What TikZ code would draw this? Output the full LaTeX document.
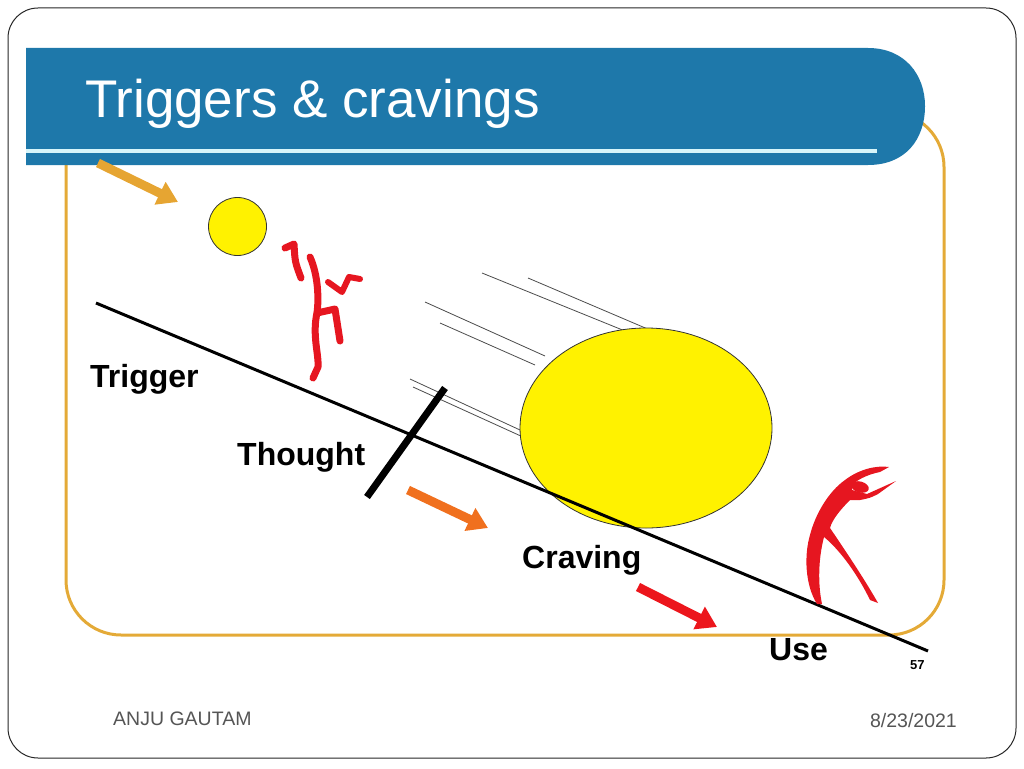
\documentclass[tikz,border=0pt]{standalone}
\usepackage{fontspec}
\setmainfont{Liberation Sans}
\usetikzlibrary{arrows.meta}
\definecolor{barblue}{RGB}{30,120,170}
\definecolor{barline}{RGB}{215,245,250}
\definecolor{frameorange}{RGB}{228,170,55}
\definecolor{arrowone}{RGB}{230,165,50}
\definecolor{arrowtwo}{RGB}{240,112,30}
\definecolor{arrowred}{RGB}{236,22,28}
\definecolor{figred}{RGB}{230,22,32}
\definecolor{footgray}{RGB}{85,85,85}
\begin{document}
\begin{tikzpicture}[x=1pt,y=-1pt,
		lbl/.style={anchor=base west,inner sep=0pt,font=\fontsize{32}{38}\selectfont\bfseries},
		fatarrow/.style={line width=9pt,-{Triangle[width=24pt,length=20pt]}},
		speed/.style={draw=black!70,line width=0.8pt}]
				\useasboundingbox (0,0) rectangle (1024,768);
				\draw[black!85,line width=1pt,rounded corners=30pt] (8,8) rectangle (1016,758);
				\draw[frameorange,line width=3pt,rounded corners=55pt] (66,112) rectangle (944,635);
				% title bar
				\fill[barblue] (26,48) -- (868,48) .. controls (905,48) and (925,75) .. (925,106) .. controls (925,140) and (905,165) .. (868,165) -- (26,165) -- cycle;
				\draw[barline,line width=3.5pt] (26,151) -- (877,151);
				\node[anchor=base west,inner sep=0pt,text=white,font=\fontsize{53}{60}\selectfont] (title) at (85,117) {Triggers \& cravings};
				% balls
				\filldraw[fill=yellow,draw=black!80,line width=0.8pt] (237.5,226.5) circle (29pt);
				\draw[speed] (482,273) -- (625,331);
				\draw[speed] (528,278) -- (650,330);
				\draw[speed] (425,302) -- (545,356);
				\draw[speed] (440,323) -- (535,365);
				\draw[speed] (410,379) -- (520,430);
				\draw[speed] (413,387) -- (523,437);
				\filldraw[fill=yellow,draw=black!80,line width=0.8pt] (646,428) ellipse (126pt and 100pt);
				% slope
				\coordinate (slopetop) at (96,303);
				\coordinate (slopeend) at (928,651);
				\draw[line width=3pt] (slopetop) -- (slopeend);
				\coordinate (barlow) at (367,497);
				\coordinate (barhigh) at (445,388);
				\draw[line width=7pt] (barlow) -- (barhigh);
				% arrows
				\coordinate (oneA) at (98,163);
				\coordinate (oneB) at (178,202);
				\coordinate (twoA) at (408,490);
				\coordinate (twoB) at (488,528);
				\coordinate (threeA) at (638,587);
				\coordinate (threeB) at (717,627);
				\draw[fatarrow,arrowone] (oneA) -- (oneB);
				\draw[fatarrow,arrowtwo] (twoA) -- (twoB);
				\draw[fatarrow,arrowred] (threeA) -- (threeB);
				% labels
				\node[lbl] (trigger) at (90,387) {Trigger};
				\node[lbl] (thought) at (237,465) {Thought};
				\node[lbl] (craving) at (522,568) {Craving};
				\node[lbl] (use) at (769,660) {Use};
				\node[anchor=base west,inner sep=0pt,font=\fontsize{13}{15}\selectfont\bfseries] (pagenum) at (910,669) {57};
				% stick figure
				\draw[figred,line width=7pt,line cap=round,line join=round] (285,248) -- (294,244) .. controls (295,262) .. (301,278);
				\draw[figred,line width=7pt,line cap=round,line join=round] (310,257) .. controls (318,275) and (319,298) .. (317,313) .. controls (312,335) and (319,355) .. (318,367) -- (313,378);
				\draw[figred,line width=7pt,line cap=round,line join=round] (317,313) -- (335,309) .. controls (338,325) .. (340,341);
				\draw[figred,line width=6pt,line cap=round,line join=round] (328,282) -- (342,292) -- (349,277) -- (360,279);
				% stretching figure
				\fill[figred] (817,604) .. controls (805,585) and (804,555) .. (810,535) .. controls (815,515) and (828,492) .. (845,480) .. controls (858,470) and (875,465) .. (889,467) -- (880,472) .. controls (870,474) and (860,478) .. (853,484) -- (852,490) -- (867,494) -- (896,481) -- (878,494) .. controls (870,498) .. (860,500) -- (850,500) .. controls (840,510) and (832,520) .. (830,528) .. controls (845,550) and (865,580) .. (878,603) -- (870,600) .. controls (858,575) and (840,550) .. (824,537) .. controls (818,560) and (818,585) .. (822,604) -- cycle;
				\fill[figred,rotate around={-15:(860,487)}] (860,487) ellipse (9pt and 5.5pt);
				% footer
				\node[anchor=base west,inner sep=0pt,text=footgray,font=\fontsize{19.5}{24}\selectfont] (author) at (113,725) {ANJU GAUTAM};
				\node[anchor=base east,inner sep=0pt,text=footgray,font=\fontsize{19.5}{24}\selectfont] (date) at (957,727) {8/23/2021};
			\end{tikzpicture}
\end{document}
